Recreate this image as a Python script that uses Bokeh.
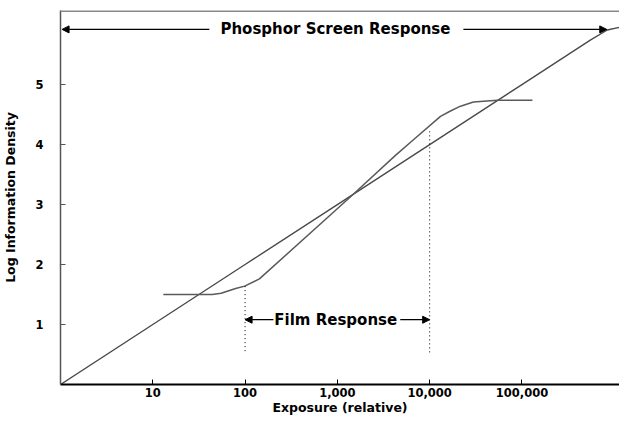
from bokeh.plotting import figure
from bokeh.models import (FixedTicker, Label, Arrow, NormalHead, Span)
from bokeh.embed import file_html
from bokeh.resources import INLINE

# ---- data ----
phosphor_x = [1, 10, 100, 1000, 10000, 100000, 550000, 840000, 1100000, 1390000]
phosphor_y = [0.0, 1.0, 2.0, 3.0, 4.0, 5.0, 5.74, 5.91, 5.95, 5.96]

film_x = [13, 44, 55, 79, 99, 143, 1390, 4260, 6670, 13100, 16800, 21600, 29800, 54200, 130000]
film_y = [1.50, 1.50, 1.52, 1.60, 1.64, 1.76, 3.13, 3.82, 4.08, 4.47, 4.56, 4.64, 4.71, 4.74, 4.74]

x_ticks = [10, 100, 1000, 10000, 100000]
x_tick_labels = ["10", "100", "1,000", "10,000", "100,000"]
y_ticks = [1, 2, 3, 4, 5]

film_limits = [100, 10000]       # exposure limits of film response
film_limit_top = [1.64, 4.22]    # where dotted markers start
marker_bottom = 0.53

x_title = "Exposure (relative)"
y_title = "Log Information Density"
phosphor_label = "Phosphor Screen Response"
film_label = "Film Response"

FONT = "DejaVu Sans"
Y_TOP = 6.235

p = figure(width=619, height=417, x_axis_type="log",
           x_range=(1, 1.14e6), y_range=(0, Y_TOP),
           output_backend="svg", toolbar_location=None,
           min_border_left=60, min_border_right=0, min_border_top=10,
           min_border_bottom=30)
p.background_fill_color = "white"
p.border_fill_color = "white"
p.outline_line_color = None
p.grid.grid_line_color = None

# axes
p.xaxis.ticker = FixedTicker(ticks=x_ticks)
p.xaxis.major_label_overrides = {t: l for t, l in zip(x_ticks, x_tick_labels)}
p.yaxis.ticker = FixedTicker(ticks=y_ticks)
for ax in (p.xaxis, p.yaxis):
    ax.minor_tick_line_color = None
    ax.major_tick_out = 0
    ax.major_tick_in = 5
    ax.major_label_text_font = FONT
    ax.major_label_text_font_style = "bold"
    ax.major_label_text_font_size = "11.5px"
    ax.major_label_text_color = "black"
    ax.axis_label_text_font = FONT
    ax.axis_label_text_font_style = "bold"
    ax.axis_label_text_font_size = "12.5px"
    ax.axis_label_text_color = "black"

p.xaxis.axis_label = x_title
p.xaxis.axis_line_color = "black"
p.xaxis.axis_line_width = 2
p.xaxis.major_tick_line_color = "black"
p.xaxis.major_label_standoff = 3
p.xaxis.axis_label_standoff = 0

p.yaxis.axis_label = y_title
p.yaxis.axis_line_color = "#555555"
p.yaxis.axis_line_width = 1.5
p.yaxis.major_tick_line_color = "#555555"
p.yaxis.major_label_standoff = 17
p.yaxis.axis_label_standoff = 14
p.yaxis.major_label_orientation = "horizontal"

# top border
p.add_layout(Span(location=Y_TOP, dimension="width", line_color="#888888", line_width=3))

# curves
p.line(phosphor_x, phosphor_y, line_color="#4a4a4a", line_width=1.4)
p.line(film_x, film_y, line_color="#5a5a5a", line_width=1.5)

# dotted markers
p.segment(x0=film_limits, y0=film_limit_top, x1=film_limits, y1=[marker_bottom] * 2,
          line_color="black", line_width=1, line_dash="1 3")

# annotations
ph_y = 5.92
p.add_layout(Arrow(end=NormalHead(size=7, fill_color="black", line_color="black"),
                   x_start=41, y_start=ph_y, x_end=1.04, y_end=ph_y,
                   line_color="black", line_width=1.2))
p.add_layout(Arrow(end=NormalHead(size=7, fill_color="black", line_color="black"),
                   x_start=23200, y_start=ph_y, x_end=8.3e5, y_end=ph_y,
                   line_color="black", line_width=1.2))
p.add_layout(Label(x=953, y=ph_y, text=phosphor_label, text_align="center",
                   text_baseline="middle", text_font=FONT, text_font_style="bold",
                   text_font_size="15px", text_color="black"))

fr_y = 1.08
p.add_layout(Arrow(end=NormalHead(size=7, fill_color="black", line_color="black"),
                   x_start=203, y_start=fr_y, x_end=film_limits[0], y_end=fr_y,
                   line_color="black", line_width=1.2))
p.add_layout(Arrow(end=NormalHead(size=7, fill_color="black", line_color="black"),
                   x_start=4800, y_start=fr_y, x_end=film_limits[1], y_end=fr_y,
                   line_color="black", line_width=1.2))
p.add_layout(Label(x=960, y=fr_y, text=film_label, text_align="center",
                   text_baseline="middle", text_font=FONT, text_font_style="bold",
                   text_font_size="15px", text_color="black"))

open("out.html", "w").write(file_html(p, INLINE))
